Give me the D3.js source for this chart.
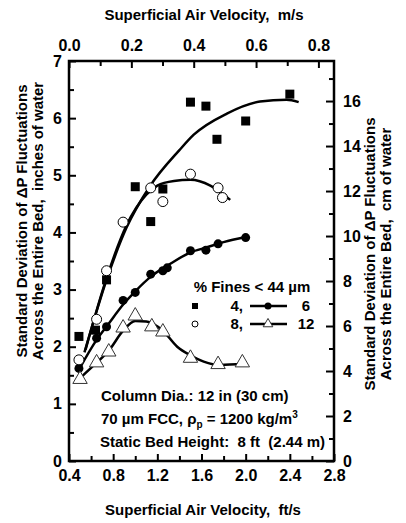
<!DOCTYPE html>
<html>
<head>
<meta charset="utf-8">
<script src="https://cdn.jsdelivr.net/npm/d3@7"></script>
<style>
  body { margin: 0; background: #fff; }
  text { font-family: "Liberation Sans", Arial, sans-serif; font-weight: bold; fill: #000; white-space: pre; }
</style>
</head>
<body>
<svg id="chart" width="406" height="523"></svg>
<script>
// data (ft/s, inches of water)
var fines4 = [[0.49,2.18],[0.64,2.29],[0.74,3.17],[1.0,4.80],[1.14,4.19],[1.25,4.76],[1.5,6.28],[1.64,6.21],[1.74,5.63],[2.0,5.95],[2.4,6.42]];
var fines6 = [[0.49,1.62],[0.65,2.15],[0.74,2.35],[0.89,2.81],[1.0,2.95],[1.14,3.27],[1.25,3.33],[1.29,3.38],[1.5,3.68],[1.64,3.69],[1.75,3.80],[2.0,3.91]];
var fines8 = [[0.49,1.77],[0.65,2.48],[0.74,3.33],[0.89,4.18],[1.14,4.78],[1.25,4.54],[1.5,5.02],[1.75,4.78],[1.79,4.61]];
var fines12 = [[0.5,1.43],[0.65,1.72],[0.76,1.91],[0.89,2.33],[1.0,2.54],[1.15,2.35],[1.25,2.26],[1.5,1.80],[1.75,1.69],[1.97,1.72]];

// fitted curves
var fit4 = [[0.54,1.9],[0.74,3.17],[0.92,4.08],[1.13,4.8],[1.4,5.44],[1.53,5.71],[1.83,6.08],[2.13,6.29],[2.37,6.32],[2.48,6.28]];
var fit8 = [[0.55,1.95],[0.74,3.2],[0.92,4.12],[1.1,4.66],[1.2,4.82],[1.35,4.9],[1.5,4.92],[1.68,4.82],[1.86,4.57]];
var fit6 = [[0.49,1.6],[0.65,2.12],[0.75,2.38],[0.9,2.76],[1.0,2.97],[1.15,3.24],[1.3,3.43],[1.5,3.65],[1.65,3.74],[1.8,3.83],[2.0,3.92]];
var fit12 = [[0.5,1.45],[0.65,1.72],[0.76,1.93],[0.89,2.28],[1.0,2.45],[1.1,2.44],[1.25,2.28],[1.38,2.0],[1.5,1.85],[1.62,1.74],[1.77,1.68],[1.98,1.70]];

var ftTicks = [0.4, 0.8, 1.2, 1.6, 2.0, 2.4, 2.8];
var msTicks = [0.0, 0.2, 0.4, 0.6, 0.8];
var inTicks = [0, 1, 2, 3, 4, 5, 6, 7];
var cmTicks = [0, 2, 4, 6, 8, 10, 12, 14, 16];

var svg = d3.select('#chart');
var pLeft = 69, pRight = 334, pTop = 61, pBottom = 461;

var x = d3.scaleLinear().domain([0.4, 2.8]).range([pLeft, pRight]);
var xTop = d3.scaleLinear().domain([0, 0.85]).range([pLeft, pRight]);
var y = d3.scaleLinear().domain([0, 7]).range([pBottom, pTop]);
var yCm = d3.scaleLinear().domain([0, 7 * 2.54]).range([pBottom, pTop]);

function axisStyle(g) {
    g.select('.domain').remove();
    g.selectAll('line').attr('stroke', '#000').attr('stroke-width', 2);
    g.selectAll('text').style('font-size', '16px').attr('fill', '#000');
}

// minor ticks first
svg.append('g').attr('transform', 'translate(0,' + pBottom + ')')
    .call(d3.axisBottom(x).tickValues(d3.range(0.6, 2.8, 0.4)).tickSize(-5).tickFormat(''))
    .call(axisStyle);
svg.append('g').attr('transform', 'translate(0,' + pTop + ')')
    .call(d3.axisTop(xTop).tickValues([0.1, 0.3, 0.5, 0.7]).tickSize(-5).tickFormat(''))
    .call(axisStyle);
svg.append('g').attr('transform', 'translate(' + pLeft + ',0)')
    .call(d3.axisLeft(y).tickValues(d3.range(0.5, 7, 1)).tickSize(-5).tickFormat(''))
    .call(axisStyle);
svg.append('g').attr('transform', 'translate(' + pRight + ',0)')
    .call(d3.axisRight(yCm).tickValues(d3.range(1, 18, 2)).tickSize(-5).tickFormat(''))
    .call(axisStyle);

// major ticks with labels
svg.append('g').attr('transform', 'translate(0,' + pBottom + ')')
    .call(d3.axisBottom(x).tickValues(ftTicks).tickSize(-7).tickPadding(9).tickFormat(d3.format('.1f')))
    .call(axisStyle);
svg.append('g').attr('transform', 'translate(0,' + pTop + ')')
    .call(d3.axisTop(xTop).tickValues(msTicks).tickSize(-7).tickPadding(10).tickFormat(d3.format('.1f')))
    .call(axisStyle);
svg.append('g').attr('transform', 'translate(' + pLeft + ',0)')
    .call(d3.axisLeft(y).tickValues(inTicks).tickSize(-7).tickPadding(7).tickFormat(d3.format('d')))
    .call(axisStyle);
svg.append('g').attr('transform', 'translate(' + pRight + ',0)')
    .call(d3.axisRight(yCm).tickValues(cmTicks).tickSize(-8).tickPadding(9).tickFormat(d3.format('d')))
    .call(axisStyle);

svg.append('rect')
    .attr('x', pLeft).attr('y', pTop)
    .attr('width', pRight - pLeft).attr('height', pBottom - pTop)
    .attr('fill', 'none').attr('stroke', '#000').attr('stroke-width', 2.5);

// fitted lines
var line = d3.line()
    .x(function(d) { return x(d[0]); })
    .y(function(d) { return y(d[1]); })
    .curve(d3.curveMonotoneX);

[fit4, fit8, fit6, fit12].forEach(function(f) {
    svg.append('path').datum(f)
        .attr('d', line)
        .attr('fill', 'none').attr('stroke', '#000').attr('stroke-width', 2.5);
});

// markers
svg.selectAll('.sq').data(fines4).enter().append('rect')
    .attr('x', function(d) { return x(d[0]) - 4.5; })
    .attr('y', function(d) { return y(d[1]) - 4.5; })
    .attr('width', 9).attr('height', 9).attr('fill', '#000');

svg.selectAll('.fc').data(fines6).enter().append('circle')
    .attr('cx', function(d) { return x(d[0]); })
    .attr('cy', function(d) { return y(d[1]); })
    .attr('r', 4.5).attr('fill', '#000');

svg.selectAll('.oc').data(fines8).enter().append('circle')
    .attr('cx', function(d) { return x(d[0]); })
    .attr('cy', function(d) { return y(d[1]); })
    .attr('r', 5).attr('fill', '#fff').attr('stroke', '#000').attr('stroke-width', 1);

var tri = d3.symbol().type(d3.symbolTriangle).size(90);
svg.selectAll('.tr').data(fines12).enter().append('path')
    .attr('d', tri)
    .attr('transform', function(d) { return 'translate(' + x(d[0]) + ',' + y(d[1]) + ')'; })
    .attr('fill', '#fff').attr('stroke', '#333').attr('stroke-width', 1);

// legend
var fs = '15px';
svg.append('text').attr('x', 252).attr('y', 287).attr('dy', '0.35em')
    .attr('text-anchor', 'middle').style('font-size', fs).text('% Fines < 44 \u00b5m');
svg.append('rect').attr('x', 192).attr('y', 303).attr('width', 6).attr('height', 6).attr('fill', '#000');
svg.append('circle').attr('cx', 195).attr('cy', 324).attr('r', 3).attr('fill', '#fff').attr('stroke', '#000');
svg.append('text').attr('x', 243).attr('y', 306).attr('dy', '0.35em')
    .attr('text-anchor', 'end').style('font-size', fs).text('4,');
svg.append('text').attr('x', 243).attr('y', 324).attr('dy', '0.35em')
    .attr('text-anchor', 'end').style('font-size', fs).text('8,');
[306, 324].forEach(function(ly) {
    svg.append('line').attr('x1', 250).attr('x2', 287).attr('y1', ly).attr('y2', ly)
        .attr('stroke', '#000').attr('stroke-width', 2.5);
});
svg.append('circle').attr('cx', 268).attr('cy', 306).attr('r', 3.5).attr('fill', '#000');
svg.append('path').attr('d', d3.symbol().type(d3.symbolTriangle).size(40))
    .attr('transform', 'translate(268,324)').attr('fill', '#fff').attr('stroke', '#333');
svg.append('text').attr('x', 306).attr('y', 306).attr('dy', '0.35em')
    .attr('text-anchor', 'middle').style('font-size', fs).text('6');
svg.append('text').attr('x', 306).attr('y', 324).attr('dy', '0.35em')
    .attr('text-anchor', 'middle').style('font-size', fs).text('12');

// notes
svg.append('text').attr('x', 101).attr('y', 396).attr('dy', '0.35em')
    .style('font-size', fs).text('Column Dia.: 12 in (30 cm)');
var t2 = svg.append('text').attr('x', 101).attr('y', 419).attr('dy', '0.35em').style('font-size', fs);
t2.append('tspan').text('70 \u00b5m FCC, \u03c1');
t2.append('tspan').attr('dy', 4).style('font-size', '10px').text('p');
t2.append('tspan').attr('dy', -4).text(' = 1200 kg/m');
t2.append('tspan').attr('dy', -6).style('font-size', '10px').text('3');
svg.append('text').attr('x', 100).attr('y', 442).attr('dy', '0.35em')
    .style('font-size', fs).text('Static Bed Height:  8 ft  (2.44 m)');

// axis titles
svg.append('text').attr('x', 203).attr('y', 510).attr('dy', '0.35em')
    .attr('text-anchor', 'middle').style('font-size', fs).text('Superficial Air Velocity,  ft/s');
svg.append('text').attr('x', 204).attr('y', 15).attr('dy', '0.35em')
    .attr('text-anchor', 'middle').style('font-size', fs).text('Superficial Air Velocity,  m/s');

function vtitle(cx, cy, lines) {
    lines.forEach(function(s, i) {
        svg.append('text')
            .attr('transform', 'translate(' + (cx + i * 16) + ',' + cy + ') rotate(-90)')
            .attr('dy', '0.35em').attr('text-anchor', 'middle')
            .style('font-size', fs).text(s);
    });
}
vtitle(22, 221, ['Standard Deviation of \u0394P Fluctuations', 'Across the Entire Bed,  inches of water']);
vtitle(370, 254, ['Standard Deviation of \u0394P Fluctuations', 'Across the Entire Bed,  cm of water']);
</script>
</body>
</html>
